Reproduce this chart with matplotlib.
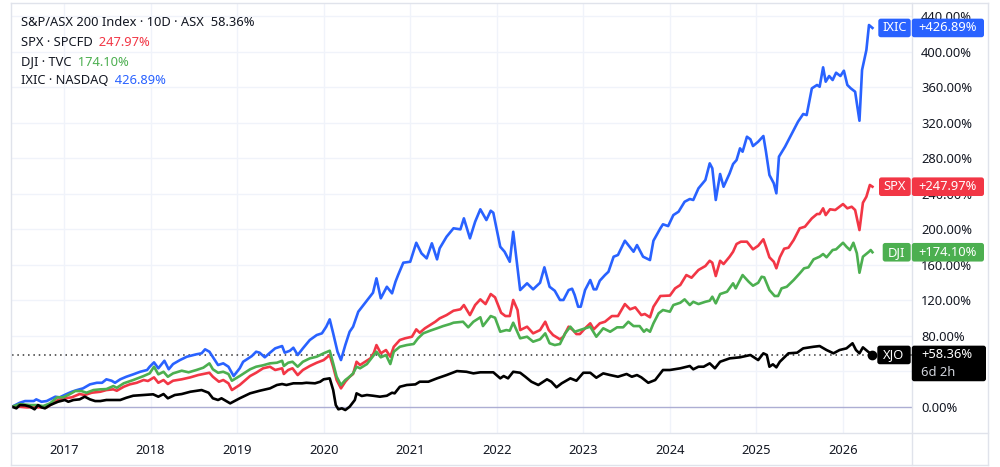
import matplotlib
matplotlib.use("Agg")
import matplotlib.pyplot as plt
from matplotlib.patches import FancyBboxPatch
from matplotlib.lines import Line2D
from matplotlib.transforms import IdentityTransform
from matplotlib.ticker import FixedLocator, FuncFormatter

plt.rcParams['font.family'] = ['Noto Sans', 'DejaVu Sans']

# ---------------- data (decimal year, % change) ----------------
xjo_t = [2016.40, 2016.45, 2016.49, 2016.55, 2016.61, 2016.66, 2016.70, 2016.74, 2016.78, 2016.84,
         2016.93, 2017.01, 2017.05, 2017.11, 2017.18, 2017.24, 2017.30, 2017.36, 2017.42, 2017.49,
         2017.57, 2017.65, 2017.72, 2017.80, 2017.92, 2018.03, 2018.09, 2018.15, 2018.20, 2018.28,
         2018.36, 2018.46, 2018.59, 2018.67, 2018.72, 2018.78, 2018.82, 2018.92, 2018.97, 2019.03,
         2019.15, 2019.26, 2019.38, 2019.46, 2019.52, 2019.57, 2019.65, 2019.75, 2019.80, 2019.90,
         2019.96, 2020.00, 2020.07, 2020.11, 2020.14, 2020.17, 2020.21, 2020.25, 2020.30, 2020.36,
         2020.38, 2020.44, 2020.50, 2020.57, 2020.65, 2020.73, 2020.79, 2020.82, 2020.88, 2020.96,
         2021.06, 2021.11, 2021.21, 2021.31, 2021.42, 2021.54, 2021.65, 2021.73, 2021.81, 2021.96,
         2022.04, 2022.08, 2022.13, 2022.19, 2022.27, 2022.33, 2022.40, 2022.48, 2022.58, 2022.63,
         2022.69, 2022.75, 2022.85, 2022.92, 2023.00, 2023.08, 2023.15, 2023.23, 2023.31, 2023.40,
         2023.50, 2023.56, 2023.62, 2023.67, 2023.75, 2023.83, 2023.92, 2024.00, 2024.12, 2024.23,
         2024.27, 2024.33, 2024.39, 2024.46, 2024.52, 2024.58, 2024.69, 2024.81, 2024.93, 2025.02,
         2025.08, 2025.12, 2025.15, 2025.19, 2025.23, 2025.27, 2025.37, 2025.47, 2025.54, 2025.66,
         2025.73, 2025.81, 2025.89, 2025.96, 2026.04, 2026.11, 2026.15, 2026.19, 2026.23, 2026.29,
         2026.34]
xjo_v = [0.0, -1.8, 1.9, 1.6, 0.0, -2.9, 1.9, -0.7, -1.8, 1.9,
         5.6, 7.6, 5.6, 7.6, 8.3, 11.3, 8.3, 6.4, 6.4, 7.6,
         7.6, 7.6, 10.1, 12.4, 13.2, 14.0, 11.3, 14.3, 9.5, 13.2,
         14.3, 16.9, 18.8, 15.8, 9.5, 7.6, 9.5, 3.8, 6.4, 9.5,
         15.1, 18.0, 20.7, 24.5, 25.6, 24.5, 26.4, 26.4, 27.0, 26.4,
         28.2, 30.9, 32.0, 18.8, 1.9, -2.9, -1.8, -3.7, 0.0, 7.6,
         15.1, 12.1, 13.2, 12.4, 11.3, 12.4, 15.8, 15.1, 22.5, 24.5,
         25.2, 28.2, 28.2, 32.0, 35.7, 40.2, 39.4, 37.6, 38.8, 38.8,
         32.0, 34.6, 32.0, 39.4, 38.3, 33.8, 28.2, 24.5, 30.9, 28.2,
         21.9, 26.4, 32.0, 29.3, 38.3, 38.3, 32.7, 37.6, 35.7, 33.8,
         36.9, 33.8, 35.7, 33.1, 27.0, 30.1, 41.4, 41.4, 43.3, 45.9,
         42.2, 45.1, 45.1, 48.9, 43.3, 50.7, 54.5, 55.7, 58.3, 52.6,
         60.2, 58.3, 45.1, 47.8, 44.4, 50.7, 60.2, 60.9, 65.8, 67.6,
         68.4, 63.9, 60.2, 63.9, 65.8, 71.5, 63.9, 60.2, 66.9, 62.0,
         58.36]

ixic_t = [2016.40, 2016.49, 2016.55, 2016.65, 2016.68, 2016.74, 2016.80, 2016.90, 2016.95, 2017.03,
          2017.09, 2017.15, 2017.22, 2017.30, 2017.38, 2017.44, 2017.49, 2017.55, 2017.59, 2017.65,
          2017.72, 2017.80, 2017.88, 2017.96, 2017.99, 2018.04, 2018.09, 2018.16, 2018.21, 2018.26,
          2018.34, 2018.42, 2018.53, 2018.59, 2018.63, 2018.68, 2018.73, 2018.78, 2018.84, 2018.90,
          2018.96, 2019.03, 2019.07, 2019.17, 2019.22, 2019.26, 2019.32, 2019.38, 2019.44, 2019.52,
          2019.55, 2019.61, 2019.65, 2019.70, 2019.76, 2019.84, 2019.92, 2019.98, 2020.03, 2020.07,
          2020.11, 2020.16, 2020.20, 2020.25, 2020.30, 2020.34, 2020.40, 2020.46, 2020.52, 2020.57,
          2020.61, 2020.66, 2020.73, 2020.79, 2020.83, 2020.86, 2020.92, 2021.00, 2021.07, 2021.13,
          2021.19, 2021.25, 2021.31, 2021.34, 2021.42, 2021.50, 2021.58, 2021.62, 2021.69, 2021.75,
          2021.81, 2021.88, 2021.93, 2021.96, 2022.04, 2022.09, 2022.15, 2022.19, 2022.27, 2022.35,
          2022.42, 2022.50, 2022.55, 2022.61, 2022.67, 2022.73, 2022.77, 2022.83, 2022.87, 2022.90,
          2022.94, 2022.97, 2023.02, 2023.08, 2023.12, 2023.15, 2023.19, 2023.25, 2023.29, 2023.35,
          2023.40, 2023.48, 2023.52, 2023.58, 2023.62, 2023.69, 2023.77, 2023.81, 2023.89, 2023.92,
          2023.98, 2024.04, 2024.10, 2024.17, 2024.23, 2024.27, 2024.33, 2024.41, 2024.46, 2024.49,
          2024.53, 2024.58, 2024.62, 2024.69, 2024.73, 2024.77, 2024.81, 2024.84, 2024.89, 2024.93,
          2024.96, 2025.02, 2025.08, 2025.11, 2025.15, 2025.20, 2025.23, 2025.26, 2025.33, 2025.41,
          2025.48, 2025.54, 2025.58, 2025.64, 2025.70, 2025.73, 2025.77, 2025.80, 2025.84, 2025.88,
          2025.92, 2025.97, 2026.01, 2026.05, 2026.09, 2026.14, 2026.19, 2026.22, 2026.27, 2026.30,
          2026.34]
ixic_v = [0.0, 4.5, 6.4, 6.4, 8.3, 5.6, 6.4, 11.3, 10.6, 14.3,
          16.9, 18.8, 20.7, 25.2, 27.0, 27.0, 30.9, 29.3, 27.0, 30.9,
          33.8, 36.5, 39.4, 41.4, 45.1, 50.0, 43.3, 51.8, 42.2, 48.1,
          52.6, 56.4, 59.1, 60.2, 64.7, 62.0, 54.5, 47.0, 48.9, 45.1,
          34.6, 43.3, 50.7, 57.1, 62.0, 60.9, 55.7, 60.9, 65.8, 68.4,
          60.9, 63.1, 66.5, 58.3, 65.8, 75.2, 80.8, 82.7, 90.2, 98.5,
          82.7, 62.0, 52.6, 69.5, 84.5, 90.2, 107.1, 114.6, 122.2, 128.5,
          144.7, 122.2, 135.2, 127.8, 140.9, 148.4, 162.3, 163.4, 184.8, 172.9,
          167.2, 184.2, 166.1, 178.5, 191.6, 201.1, 199.9, 212.3, 189.8, 208.5,
          222.5, 210.4, 220.9, 218.6, 180.3, 174.7, 163.4, 197.2, 131.5, 139.1,
          132.3, 139.7, 157.1, 135.2, 130.7, 120.3, 120.3, 131.5, 133.0, 125.9,
          112.7, 112.7, 131.5, 142.8, 132.3, 132.3, 142.0, 148.4, 152.1, 169.1,
          171.0, 187.1, 182.2, 174.7, 182.2, 169.1, 165.3, 187.1, 201.1, 205.6,
          203.6, 216.0, 219.8, 231.0, 234.1, 233.0, 246.1, 255.5, 274.3, 268.7,
          233.0, 262.3, 247.9, 263.0, 273.5, 278.0, 291.2, 287.4, 304.3, 301.4,
          293.8, 298.7, 305.1, 287.4, 261.1, 251.8, 240.5, 281.8, 293.0, 308.1,
          321.2, 329.9, 328.7, 358.8, 362.6, 360.6, 382.5, 366.3, 372.7, 368.2,
          376.4, 372.7, 378.7, 362.6, 358.8, 355.0, 322.3, 379.5, 402.0, 430.2,
          426.89]

spx_t = [2016.40, 2016.49, 2016.57, 2016.72, 2016.80, 2016.84, 2016.93, 2017.01, 2017.09, 2017.18,
         2017.24, 2017.32, 2017.42, 2017.49, 2017.57, 2017.61, 2017.69, 2017.76, 2017.84, 2017.92,
         2017.97, 2018.04, 2018.09, 2018.15, 2018.20, 2018.26, 2018.36, 2018.46, 2018.55, 2018.61,
         2018.68, 2018.72, 2018.79, 2018.84, 2018.90, 2018.94, 2019.03, 2019.15, 2019.22, 2019.30,
         2019.38, 2019.44, 2019.52, 2019.54, 2019.59, 2019.64, 2019.70, 2019.76, 2019.84, 2019.92,
         2020.00, 2020.07, 2020.11, 2020.15, 2020.20, 2020.25, 2020.30, 2020.34, 2020.38, 2020.42,
         2020.48, 2020.54, 2020.58, 2020.61, 2020.66, 2020.72, 2020.77, 2020.81, 2020.88, 2020.94,
         2021.02, 2021.07, 2021.11, 2021.17, 2021.23, 2021.29, 2021.34, 2021.42, 2021.50, 2021.58,
         2021.62, 2021.69, 2021.75, 2021.81, 2021.87, 2021.93, 2021.98, 2022.05, 2022.10, 2022.15,
         2022.19, 2022.24, 2022.27, 2022.35, 2022.42, 2022.50, 2022.56, 2022.60, 2022.65, 2022.73,
         2022.77, 2022.83, 2022.88, 2022.92, 2022.96, 2023.02, 2023.08, 2023.12, 2023.19, 2023.25,
         2023.33, 2023.40, 2023.48, 2023.54, 2023.60, 2023.67, 2023.71, 2023.77, 2023.81, 2023.89,
         2024.00, 2024.06, 2024.12, 2024.19, 2024.25, 2024.33, 2024.41, 2024.46, 2024.49, 2024.53,
         2024.58, 2024.62, 2024.69, 2024.73, 2024.77, 2024.82, 2024.89, 2024.96, 2025.02, 2025.08,
         2025.11, 2025.15, 2025.20, 2025.23, 2025.27, 2025.32, 2025.37, 2025.43, 2025.50, 2025.56,
         2025.64, 2025.70, 2025.73, 2025.77, 2025.80, 2025.85, 2025.91, 2026.00, 2026.05, 2026.10,
         2026.14, 2026.19, 2026.23, 2026.27, 2026.31, 2026.34]
spx_v = [0.0, 0.0, -0.7, -0.7, -0.7, 1.9, 7.6, 9.5, 10.6, 14.3,
         13.2, 15.8, 16.9, 18.8, 19.6, 18.0, 22.5, 25.2, 27.0, 30.1,
         29.0, 33.1, 27.0, 30.1, 25.6, 29.3, 30.9, 33.1, 35.7, 36.9,
         38.3, 33.8, 28.2, 30.1, 26.4, 18.8, 24.5, 34.6, 38.3, 43.3,
         45.1, 41.4, 43.3, 36.9, 41.4, 43.3, 35.7, 41.4, 45.9, 49.6,
         52.6, 58.3, 45.1, 30.1, 20.7, 28.2, 33.8, 36.9, 50.7, 47.0,
         50.7, 54.5, 60.9, 69.5, 60.2, 63.9, 56.4, 67.6, 75.2, 77.1,
         78.9, 87.2, 83.4, 88.4, 92.1, 95.8, 99.6, 103.3, 108.2, 109.8,
         114.6, 103.3, 114.6, 121.0, 115.7, 127.0, 123.3, 105.9, 102.2, 102.2,
         120.3, 109.0, 86.4, 90.2, 82.7, 86.4, 95.8, 86.4, 80.8, 76.0,
         78.9, 90.2, 86.4, 81.9, 81.9, 88.4, 94.0, 87.2, 94.0, 95.8,
         102.2, 102.2, 115.7, 109.8, 112.0, 103.3, 104.5, 100.8, 112.7, 124.8,
         125.3, 133.4, 137.2, 148.4, 145.4, 154.1, 158.6, 164.5, 162.3, 147.3,
         164.5, 160.8, 169.1, 174.7, 183.4, 186.0, 186.0, 177.4, 181.4, 188.7,
         180.3, 168.4, 163.4, 156.0, 168.4, 178.1, 179.2, 187.9, 201.1, 202.9,
         212.3, 217.2, 217.2, 223.6, 216.0, 222.5, 221.7, 228.4, 223.6, 225.4,
         221.7, 199.1, 229.9, 236.7, 249.9, 247.97]

dji_t = [2016.40, 2016.49, 2016.61, 2016.68, 2016.76, 2016.84, 2016.92, 2016.99, 2017.07, 2017.13,
         2017.20, 2017.26, 2017.34, 2017.42, 2017.49, 2017.57, 2017.61, 2017.69, 2017.80, 2017.92,
         2017.99, 2018.04, 2018.09, 2018.15, 2018.20, 2018.26, 2018.36, 2018.44, 2018.53, 2018.61,
         2018.68, 2018.72, 2018.78, 2018.84, 2018.90, 2018.94, 2019.03, 2019.15, 2019.22, 2019.30,
         2019.38, 2019.46, 2019.52, 2019.54, 2019.59, 2019.64, 2019.70, 2019.76, 2019.84, 2019.92,
         2020.00, 2020.07, 2020.11, 2020.15, 2020.20, 2020.25, 2020.30, 2020.34, 2020.38, 2020.42,
         2020.50, 2020.55, 2020.61, 2020.66, 2020.72, 2020.77, 2020.81, 2020.88, 2020.96, 2021.04,
         2021.09, 2021.15, 2021.23, 2021.31, 2021.38, 2021.46, 2021.50, 2021.61, 2021.67, 2021.73,
         2021.81, 2021.84, 2021.93, 2021.98, 2022.04, 2022.11, 2022.15, 2022.19, 2022.27, 2022.35,
         2022.42, 2022.50, 2022.56, 2022.61, 2022.67, 2022.73, 2022.79, 2022.85, 2022.90, 2022.96,
         2023.02, 2023.08, 2023.15, 2023.23, 2023.31, 2023.39, 2023.46, 2023.52, 2023.58, 2023.65,
         2023.70, 2023.73, 2023.77, 2023.81, 2023.87, 2023.92, 2024.00, 2024.04, 2024.12, 2024.17,
         2024.23, 2024.27, 2024.33, 2024.41, 2024.46, 2024.49, 2024.53, 2024.58, 2024.66, 2024.73,
         2024.76, 2024.84, 2024.91, 2024.96, 2025.02, 2025.06, 2025.09, 2025.15, 2025.21, 2025.25,
         2025.29, 2025.35, 2025.43, 2025.50, 2025.55, 2025.60, 2025.66, 2025.73, 2025.77, 2025.81,
         2025.88, 2025.92, 2026.00, 2026.04, 2026.08, 2026.12, 2026.16, 2026.19, 2026.23, 2026.30,
         2026.32, 2026.34]
dji_v = [0.0, 3.0, 1.9, 1.9, 0.8, 3.8, 10.6, 10.6, 14.3, 17.7,
         17.7, 15.8, 18.8, 19.6, 19.9, 23.3, 21.4, 26.4, 30.1, 34.6,
         37.6, 45.1, 36.5, 39.4, 33.8, 37.6, 40.6, 38.8, 41.4, 44.0,
         48.9, 42.2, 38.3, 39.4, 36.9, 29.3, 34.6, 42.2, 45.1, 46.7,
         48.9, 49.6, 51.8, 45.9, 49.6, 50.7, 45.1, 50.7, 54.5, 56.4,
         60.2, 63.1, 48.9, 33.8, 24.5, 30.1, 33.8, 37.6, 45.1, 43.3,
         48.1, 54.5, 62.0, 55.7, 58.3, 48.1, 62.0, 67.6, 69.5, 70.7,
         77.1, 82.7, 85.7, 88.4, 90.9, 93.2, 94.7, 95.8, 89.5, 95.8,
         100.8, 90.9, 102.2, 100.3, 84.5, 86.4, 85.7, 94.7, 77.1, 78.9,
         73.3, 76.0, 82.7, 71.5, 69.5, 70.7, 82.7, 90.2, 84.5, 86.4,
         88.4, 90.2, 78.9, 88.4, 84.5, 89.5, 89.5, 95.8, 90.9, 90.9,
         84.5, 87.2, 84.5, 94.0, 105.3, 109.0, 107.1, 114.6, 117.2, 121.0,
         114.6, 118.3, 115.7, 118.3, 119.5, 124.0, 116.5, 127.0, 129.6, 139.1,
         133.4, 148.4, 140.9, 136.4, 139.7, 146.5, 145.8, 131.5, 124.8, 124.8,
         133.4, 135.2, 142.8, 150.3, 156.0, 157.1, 166.1, 169.1, 172.1, 168.4,
         176.6, 177.4, 184.8, 180.3, 176.6, 184.8, 172.9, 151.0, 169.1, 174.7,
         176.6, 174.10]

years = [2017, 2018, 2019, 2020, 2021, 2022, 2023, 2024, 2025, 2026]
y_grid = [0, 40, 80, 120, 160, 200, 240, 280, 320, 360, 400, 440]
y_labeled = [0, 80, 120, 160, 200, 240, 280, 320, 360, 400, 440]   # 40% is hidden behind the XJO tag

legend_names = ["S&P/ASX 200 Index \u00b7 10D \u00b7 ASX", "SPX \u00b7 SPCFD", "DJI \u00b7 TVC", "IXIC \u00b7 NASDAQ"]
tag_names = ["XJO", "SPX", "DJI", "IXIC"]

for a, b in [(xjo_t, xjo_v), (ixic_t, ixic_v), (spx_t, spx_v), (dji_t, dji_v)]:
    assert len(a) == len(b), (len(a), len(b))

C_BLUE = '#2962ff'
C_RED = '#f23645'
C_GREEN = '#4caf50'
C_BLACK = '#000000'
C_TEXT = '#131722'
C_GRID = '#f0f3fa'
C_BORDER = '#e0e3eb'

W, H = 1000, 467
fig = plt.figure(figsize=(W / 100, H / 100), dpi=100)
fig.patch.set_facecolor('white')

L, R, T, B = 11.7, 912.0, 3.0, 433.0
ax = fig.add_axes([L / W, 1 - B / H, (R - L) / W, (B - T) / H])
ax.set_xlim(2016.396, 2026.797)
ax.set_ylim(-29.6, 455.0)
for s in ax.spines.values():
    s.set_visible(False)

ax.xaxis.set_major_locator(FixedLocator(years))
ax.xaxis.set_major_formatter(FuncFormatter(lambda v, p: f"{int(round(v))}"))
ax.yaxis.set_major_locator(FixedLocator(y_labeled))
ax.yaxis.set_major_formatter(FuncFormatter(lambda v, p: f"{v:.2f}%"))
ax.yaxis.tick_right()
ax.tick_params(axis='y', length=0, pad=6.5, labelsize=9.3, labelcolor=C_TEXT)
ax.tick_params(axis='x', length=0, pad=8, labelsize=9.3, labelcolor=C_TEXT)
for lab in ax.get_xticklabels():
    lab.set_fontweight('bold')
ax.grid(True, axis='x', color=C_GRID, lw=1)
for g in y_grid:
    if g != 0:
        ax.axhline(g, color=C_GRID, lw=1, zorder=0.5)
ax.set_axisbelow(True)

ax.axhline(0, color='#adaed3', lw=1, zorder=1)
ax.axhline(xjo_v[-1], color='#333333', lw=1.1, ls=(0, (1, 2.5)), zorder=2)

ax.plot(ixic_t, ixic_v, color=C_BLUE, lw=1.9, zorder=3, solid_joinstyle='round')
ax.plot(spx_t, spx_v, color=C_RED, lw=1.9, zorder=3, solid_joinstyle='round')
ax.plot(dji_t, dji_v, color=C_GREEN, lw=1.9, zorder=3, solid_joinstyle='round')
ax.plot(xjo_t, xjo_v, color=C_BLACK, lw=1.9, zorder=4, solid_joinstyle='round')
ax.plot([xjo_t[-1]], [xjo_v[-1]], 'o', color=C_BLACK, ms=6, zorder=5)

# frame lines
def fline(x0, y0, x1, y1):
    fig.add_artist(Line2D([x0 / W, x1 / W], [1 - y0 / H, 1 - y1 / H],
                          transform=fig.transFigure, color=C_BORDER, lw=1))

fline(11, 3, 988, 3)
fline(11, 465, 988, 465)
fline(11, 3, 11, 465)
fline(988, 3, 988, 465)
fline(912, 3, 912, 465)
fline(11, 433, 988, 433)

# legend
leg_vals = [xjo_v[-1], spx_v[-1], dji_v[-1], ixic_v[-1]]
leg_cols = [C_TEXT, C_RED, C_GREEN, C_BLUE]
baselines = [26.5, 46.0, 65.5, 84.5]
for name, val, col, yb in zip(legend_names, leg_vals, leg_cols, baselines):
    t = fig.text(20.7 / W, 1 - yb / H, name, fontsize=9.3, color=C_TEXT, va='baseline', ha='left')
    ax.annotate(f"  {val:.2f}%", xy=(1, 0), xycoords=t, va='bottom', ha='left',
                fontsize=9.3, color=col, annotation_clip=False)

# right-side tags
fig.canvas.draw()
ident = IdentityTransform()

def box(x0, x1, ytop, ybot, color):
    p = FancyBboxPatch((x0, H - ybot), x1 - x0, ybot - ytop,
                       boxstyle="round,pad=0,rounding_size=2.5",
                       transform=ident, facecolor=color, edgecolor='none', zorder=10)
    fig.add_artist(p)

def tag(tval, val, name, color, name_left, val_right=984, extra=None):
    ydisp = ax.transData.transform((tval, val))[1]
    yc = H - ydisp  # from top
    ytop, ybot = yc - 9.3, yc + 9.3
    box(name_left, 910.7, ytop, ybot, color)
    vb = ybot + (17 if extra else 0)
    box(911.8, val_right, ytop, vb, color)
    fig.text((name_left + 910.7) / 2 / W, 1 - yc / H, name, color='white', fontsize=9.3,
             ha='center', va='center', zorder=11)
    if extra:
        fig.text(921 / W, 1 - yc / H, f"+{val:.2f}%", color='white', fontsize=9.3,
                 ha='left', va='center', zorder=11)
        fig.text(921 / W, 1 - (yc + 17.5) / H, extra, color='#d1d4dc', fontsize=9.3,
                 ha='left', va='center', zorder=11)
    else:
        fig.text((911.8 + val_right) / 2 / W, 1 - yc / H, f"+{val:.2f}%", color='white', fontsize=9.3,
                 ha='center', va='center', zorder=11)

tag(ixic_t[-1], ixic_v[-1], tag_names[3], C_BLUE, 878.3)
tag(spx_t[-1], spx_v[-1], tag_names[1], C_RED, 879.0)
tag(dji_t[-1], dji_v[-1], tag_names[2], C_GREEN, 882.7)
tag(xjo_t[-1], xjo_v[-1], tag_names[0], C_BLACK, 877.3, val_right=986, extra="6d 2h")

fig.savefig("out.png", dpi=100)
